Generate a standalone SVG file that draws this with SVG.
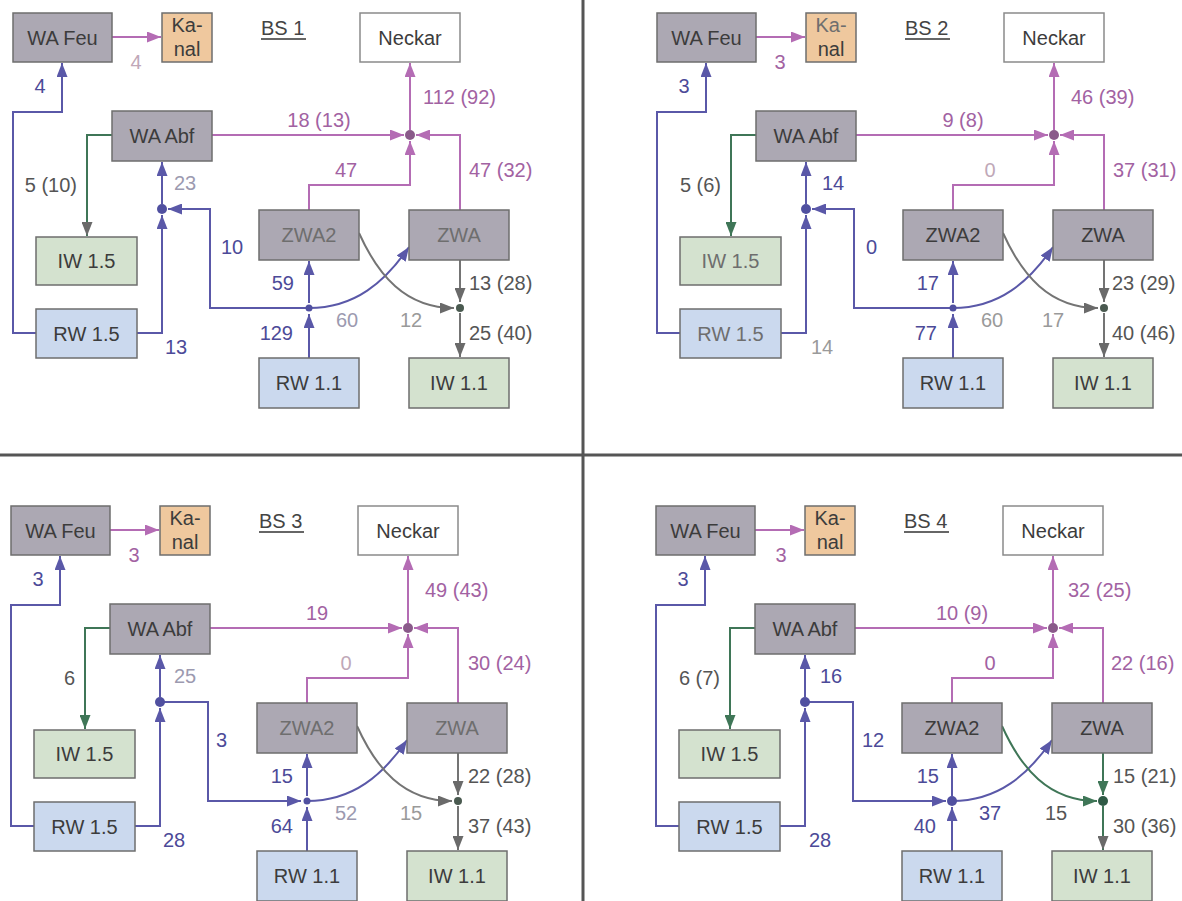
<svg xmlns="http://www.w3.org/2000/svg" width="1182" height="901" viewBox="0 0 1182 901">
<style>
text{font-family:"Liberation Sans",Arial,sans-serif;font-size:20px}
.box{stroke:#6e6e6e;stroke-width:1.5}
.g{fill:#aca8b3}.k{fill:#efc89e}.nk{fill:#fff;stroke:#8a8a8a}.iw{fill:#d4e2cf}.rw{fill:#cbd9ee}
.t{text-anchor:middle;fill:#3c3c3c}.tf{text-anchor:middle;fill:#6e6e6e}
.c{fill:none;stroke-width:2}
.bl{stroke:#5a58a8}.pk{stroke:#b46cb4}.gy{stroke:#747474}.gn{stroke:#3f7657}
.m{text-anchor:middle}.e{text-anchor:end}
.lb{fill:#4c4a98}.lp{fill:#a262a2}.lg{fill:#555}.lf{fill:#9c9ab0}.lfp{fill:#c0a8b8}.lfg{fill:#9a9a9a}
.div{stroke:#555;stroke-width:3}
</style>
<defs>
<marker id="ab" viewBox="0 0 14 11" refX="14" refY="5.5" markerWidth="14" markerHeight="11" markerUnits="userSpaceOnUse" orient="auto"><path d="M0,0 L14,5.5 L0,11 z" fill="#5a58a8"/></marker>
<marker id="ap" viewBox="0 0 14 11" refX="14" refY="5.5" markerWidth="14" markerHeight="11" markerUnits="userSpaceOnUse" orient="auto"><path d="M0,0 L14,5.5 L0,11 z" fill="#b46cb4"/></marker>
<marker id="ag" viewBox="0 0 14 11" refX="14" refY="5.5" markerWidth="14" markerHeight="11" markerUnits="userSpaceOnUse" orient="auto"><path d="M0,0 L14,5.5 L0,11 z" fill="#6a6a6a"/></marker>
<marker id="an" viewBox="0 0 14 11" refX="14" refY="5.5" markerWidth="14" markerHeight="11" markerUnits="userSpaceOnUse" orient="auto"><path d="M0,0 L14,5.5 L0,11 z" fill="#3f7657"/></marker>
</defs>
<rect width="1182" height="901" fill="#fff"/>
<g id="dividers">
<line class="div" x1="583" y1="0" x2="583" y2="901"/>
<line class="div" x1="0" y1="455" x2="1182" y2="455"/>
</g>

<!-- BS 1 -->
<g id="bs1">
<g id="bs1-connectors">
<path class="c pk" d="M112,37 H161" marker-end="url(#ap)"/>
<path class="c pk" d="M212,135 H404" marker-end="url(#ap)"/>
<path class="c pk" d="M460,210 V135 H416" marker-end="url(#ap)"/>
<path class="c pk" d="M309,210 V185 H410 V141" marker-end="url(#ap)"/>
<path class="c pk" d="M410,130 V63" marker-end="url(#ap)"/>
<circle cx="410" cy="135" r="5" fill="#8a5a8a"/>
<path class="c bl" d="M36,333 H13 V112 H62 V63" marker-end="url(#ab)"/>
<path class="c bl" d="M137,333 H162 V215" marker-end="url(#ab)"/>
<path class="c bl" d="M162,204 V162" marker-end="url(#ab)"/>
<path class="c bl" d="M309,308 H210 V209 H168" marker-end="url(#ab)"/>
<path class="c bl" d="M309,358 V314" marker-end="url(#ab)"/>
<path class="c bl" d="M309,303 V261" marker-end="url(#ab)"/>
<path class="c bl" d="M309,308 C355,308 385,282 409,247" marker-end="url(#ab)"/>
<circle cx="162" cy="209" r="5" fill="#5050a0"/>
<circle cx="309" cy="308" r="3.5" fill="#5050a0"/>
<path class="c gn" d="M112,135 H87 V236" marker-end="url(#ag)"/>
<path class="c gy" d="M460,260 V302" marker-end="url(#ag)"/>
<path class="c gy" d="M460,313 V357" marker-end="url(#ag)"/>
<path class="c gy" d="M359,233 C378,275 405,308 454,308" marker-end="url(#ag)"/>
<circle cx="460" cy="308" r="4" fill="#4a5a50"/>
</g>
<g id="bs1-wafeu"><rect class="box g" x="13" y="13" width="99" height="49"/><text class="t" x="62.5" y="45">WA Feu</text></g>
<g id="bs1-kanal"><rect class="box k" x="162" y="13" width="50" height="49"/><text class="t" x="187" y="32">Ka-</text><text class="t" x="187" y="56">nal</text></g>
<g id="bs1-title"><text x="261" y="35" fill="#444">BS 1</text><line x1="261" y1="39" x2="306" y2="39" stroke="#666" stroke-width="2"/></g>
<g id="bs1-neckar"><rect class="box nk" x="360" y="13" width="100" height="49"/><text class="t" x="410" y="45">Neckar</text></g>
<g id="bs1-waabf"><rect class="box g" x="112" y="111" width="100" height="50"/><text class="t" x="162" y="143">WA Abf</text></g>
<g id="bs1-iw15"><rect class="box iw" x="36" y="237" width="101" height="48"/><text class="t" x="86.5" y="268">IW 1.5</text></g>
<g id="bs1-rw15"><rect class="box rw" x="36" y="309" width="101" height="49"/><text class="t" x="86.5" y="341">RW 1.5</text></g>
<g id="bs1-zwa2"><rect class="box g" x="259" y="210" width="100" height="50"/><text class="tf" x="309" y="242">ZWA2</text></g>
<g id="bs1-zwa"><rect class="box g" x="409" y="210" width="100" height="50"/><text class="tf" x="459" y="242">ZWA</text></g>
<g id="bs1-rw11"><rect class="box rw" x="259" y="358" width="100" height="50"/><text class="t" x="309" y="390">RW 1.1</text></g>
<g id="bs1-iw11"><rect class="box iw" x="409" y="358" width="100" height="50"/><text class="t" x="459" y="390">IW 1.1</text></g>
<g id="bs1-labels">
<text class="m lfp" x="136" y="69">4</text>
<text class="m lb" x="40" y="93">4</text>
<text class="e lg" x="77" y="192">5 (10)</text>
<text class="lf" x="174" y="190">23</text>
<text class="m lp" x="319" y="127">18 (13)</text>
<text class="lp" x="423" y="104">112 (92)</text>
<text class="m lp" x="346" y="177">47</text>
<text class="lp" x="469" y="177">47 (32)</text>
<text class="lb" x="221" y="254">10</text>
<text class="e lb" x="294" y="290">59</text>
<text class="e lb" x="293" y="340">129</text>
<text class="m lf" x="347" y="327">60</text>
<text class="m lfg" x="411" y="327">12</text>
<text class="lg" x="469" y="290">13 (28)</text>
<text class="lg" x="469" y="340">25 (40)</text>
<text class="m lb" x="176" y="354">13</text>
</g>
</g>

<!-- BS 2 -->
<g id="bs2" transform="translate(644,0)">
<g id="bs2-connectors">
<path class="c pk" d="M112,37 H161" marker-end="url(#ap)"/>
<path class="c pk" d="M212,135 H404" marker-end="url(#ap)"/>
<path class="c pk" d="M460,210 V135 H416" marker-end="url(#ap)"/>
<path class="c pk" d="M309,210 V185 H410 V141" marker-end="url(#ap)"/>
<path class="c pk" d="M410,130 V63" marker-end="url(#ap)"/>
<circle cx="410" cy="135" r="5" fill="#8a5a8a"/>
<path class="c bl" d="M36,333 H13 V112 H62 V63" marker-end="url(#ab)"/>
<path class="c bl" d="M137,333 H162 V215" marker-end="url(#ab)"/>
<path class="c bl" d="M162,204 V162" marker-end="url(#ab)"/>
<path class="c bl" d="M309,308 H210 V209 H168" marker-end="url(#ab)"/>
<path class="c bl" d="M309,358 V314" marker-end="url(#ab)"/>
<path class="c bl" d="M309,303 V261" marker-end="url(#ab)"/>
<path class="c bl" d="M309,308 C355,308 385,282 409,247" marker-end="url(#ab)"/>
<circle cx="162" cy="209" r="5" fill="#5050a0"/>
<circle cx="309" cy="308" r="3.5" fill="#5050a0"/>
<path class="c gn" d="M112,135 H87 V236" marker-end="url(#an)"/>
<path class="c gy" d="M460,260 V302" marker-end="url(#ag)"/>
<path class="c gy" d="M460,313 V357" marker-end="url(#ag)"/>
<path class="c gy" d="M359,233 C378,275 405,308 454,308" marker-end="url(#ag)"/>
<circle cx="460" cy="308" r="4" fill="#4a5a50"/>
</g>
<g id="bs2-wafeu"><rect class="box g" x="13" y="13" width="99" height="49"/><text class="t" x="62.5" y="45">WA Feu</text></g>
<g id="bs2-kanal"><rect class="box k" x="162" y="13" width="50" height="49"/><text class="tf" x="187" y="32">Ka-</text><text class="t" x="187" y="56">nal</text></g>
<g id="bs2-title"><text x="261" y="35" fill="#444">BS 2</text><line x1="261" y1="39" x2="306" y2="39" stroke="#666" stroke-width="2"/></g>
<g id="bs2-neckar"><rect class="box nk" x="360" y="13" width="100" height="49"/><text class="t" x="410" y="45">Neckar</text></g>
<g id="bs2-waabf"><rect class="box g" x="112" y="111" width="100" height="50"/><text class="t" x="162" y="143">WA Abf</text></g>
<g id="bs2-iw15"><rect class="box iw" x="36" y="237" width="101" height="48"/><text class="tf" x="86.5" y="268">IW 1.5</text></g>
<g id="bs2-rw15"><rect class="box rw" x="36" y="309" width="101" height="49"/><text class="tf" x="86.5" y="341">RW 1.5</text></g>
<g id="bs2-zwa2"><rect class="box g" x="259" y="210" width="100" height="50"/><text class="t" x="309" y="242">ZWA2</text></g>
<g id="bs2-zwa"><rect class="box g" x="409" y="210" width="100" height="50"/><text class="t" x="459" y="242">ZWA</text></g>
<g id="bs2-rw11"><rect class="box rw" x="259" y="358" width="100" height="50"/><text class="t" x="309" y="390">RW 1.1</text></g>
<g id="bs2-iw11"><rect class="box iw" x="409" y="358" width="100" height="50"/><text class="t" x="459" y="390">IW 1.1</text></g>
<g id="bs2-labels">
<text class="m lp" x="136" y="69">3</text>
<text class="m lb" x="40" y="93">3</text>
<text class="e lg" x="77" y="192">5 (6)</text>
<text class="lb" x="178" y="190">14</text>
<text class="m lp" x="319" y="127">9 (8)</text>
<text class="lp" x="427" y="104">46 (39)</text>
<text class="m lfp" x="346" y="177">0</text>
<text class="lp" x="469" y="177">37 (31)</text>
<text class="lb" x="222" y="254">0</text>
<text class="e lb" x="295" y="290">17</text>
<text class="e lb" x="293" y="340">77</text>
<text class="m lfg" x="348" y="327">60</text>
<text class="m lfg" x="409" y="327">17</text>
<text class="lg" x="468" y="290">23 (29)</text>
<text class="lg" x="468" y="340">40 (46)</text>
<text class="m lfg" x="178" y="354">14</text>
</g>
</g>

<!-- BS 3 -->
<g id="bs3" transform="translate(-2,493)">
<g id="bs3-connectors">
<path class="c pk" d="M112,37 H161" marker-end="url(#ap)"/>
<path class="c pk" d="M212,135 H404" marker-end="url(#ap)"/>
<path class="c pk" d="M460,210 V135 H416" marker-end="url(#ap)"/>
<path class="c pk" d="M309,210 V185 H410 V141" marker-end="url(#ap)"/>
<path class="c pk" d="M410,130 V63" marker-end="url(#ap)"/>
<circle cx="410" cy="135" r="5" fill="#8a5a8a"/>
<path class="c bl" d="M36,333 H13 V112 H62 V63" marker-end="url(#ab)"/>
<path class="c bl" d="M137,333 H162 V215" marker-end="url(#ab)"/>
<path class="c bl" d="M162,204 V162" marker-end="url(#ab)"/>
<path class="c bl" d="M162,209 H210 V308 H303" marker-end="url(#ab)"/>
<path class="c bl" d="M309,358 V314" marker-end="url(#ab)"/>
<path class="c bl" d="M309,303 V261" marker-end="url(#ab)"/>
<path class="c bl" d="M309,308 C355,308 385,282 409,247" marker-end="url(#ab)"/>
<circle cx="162" cy="209" r="5" fill="#5050a0"/>
<circle cx="309" cy="308" r="3.5" fill="#5050a0"/>
<path class="c gn" d="M112,135 H87 V236" marker-end="url(#an)"/>
<path class="c gy" d="M460,260 V302" marker-end="url(#ag)"/>
<path class="c gy" d="M460,313 V357" marker-end="url(#ag)"/>
<path class="c gy" d="M359,233 C378,275 405,308 454,308" marker-end="url(#ag)"/>
<circle cx="460" cy="308" r="4" fill="#4a5a50"/>
</g>
<g id="bs3-wafeu"><rect class="box g" x="13" y="13" width="99" height="49"/><text class="t" x="62.5" y="45">WA Feu</text></g>
<g id="bs3-kanal"><rect class="box k" x="162" y="13" width="50" height="49"/><text class="t" x="187" y="32">Ka-</text><text class="t" x="187" y="56">nal</text></g>
<g id="bs3-title"><text x="261" y="35" fill="#444">BS 3</text><line x1="261" y1="39" x2="306" y2="39" stroke="#666" stroke-width="2"/></g>
<g id="bs3-neckar"><rect class="box nk" x="360" y="13" width="100" height="49"/><text class="t" x="410" y="45">Neckar</text></g>
<g id="bs3-waabf"><rect class="box g" x="112" y="111" width="100" height="50"/><text class="t" x="162" y="143">WA Abf</text></g>
<g id="bs3-iw15"><rect class="box iw" x="36" y="237" width="101" height="48"/><text class="t" x="86.5" y="268">IW 1.5</text></g>
<g id="bs3-rw15"><rect class="box rw" x="36" y="309" width="101" height="49"/><text class="t" x="86.5" y="341">RW 1.5</text></g>
<g id="bs3-zwa2"><rect class="box g" x="259" y="210" width="100" height="50"/><text class="tf" x="309" y="242">ZWA2</text></g>
<g id="bs3-zwa"><rect class="box g" x="409" y="210" width="100" height="50"/><text class="tf" x="459" y="242">ZWA</text></g>
<g id="bs3-rw11"><rect class="box rw" x="259" y="358" width="100" height="50"/><text class="t" x="309" y="390">RW 1.1</text></g>
<g id="bs3-iw11"><rect class="box iw" x="409" y="358" width="100" height="50"/><text class="t" x="459" y="390">IW 1.1</text></g>
<g id="bs3-labels">
<text class="m lp" x="136" y="69">3</text>
<text class="m lb" x="40" y="93">3</text>
<text class="e lg" x="77" y="192">6</text>
<text class="lf" x="176" y="190">25</text>
<text class="m lp" x="319" y="127">19</text>
<text class="lp" x="427" y="104">49 (43)</text>
<text class="m lfp" x="348" y="177">0</text>
<text class="lp" x="470" y="177">30 (24)</text>
<text class="lb" x="218" y="254">3</text>
<text class="e lb" x="295" y="290">15</text>
<text class="e lb" x="295" y="340">64</text>
<text class="m lf" x="348" y="327">52</text>
<text class="m lfg" x="413" y="327">15</text>
<text class="lg" x="470" y="290">22 (28)</text>
<text class="lg" x="470" y="340">37 (43)</text>
<text class="m lb" x="176" y="354">28</text>
</g>
</g>

<!-- BS 4 -->
<g id="bs4" transform="translate(643,493)">
<g id="bs4-connectors">
<path class="c pk" d="M112,37 H161" marker-end="url(#ap)"/>
<path class="c pk" d="M212,135 H404" marker-end="url(#ap)"/>
<path class="c pk" d="M460,210 V135 H416" marker-end="url(#ap)"/>
<path class="c pk" d="M309,210 V185 H410 V141" marker-end="url(#ap)"/>
<path class="c pk" d="M410,130 V63" marker-end="url(#ap)"/>
<circle cx="410" cy="135" r="5" fill="#8a5a8a"/>
<path class="c bl" d="M36,333 H13 V112 H62 V63" marker-end="url(#ab)"/>
<path class="c bl" d="M137,333 H162 V215" marker-end="url(#ab)"/>
<path class="c bl" d="M162,204 V162" marker-end="url(#ab)"/>
<path class="c bl" d="M162,209 H210 V308 H303" marker-end="url(#ab)"/>
<path class="c bl" d="M309,358 V314" marker-end="url(#ab)"/>
<path class="c bl" d="M309,303 V261" marker-end="url(#ab)"/>
<path class="c bl" d="M309,308 C355,308 385,282 409,247" marker-end="url(#ab)"/>
<circle cx="162" cy="209" r="5" fill="#5050a0"/>
<circle cx="309" cy="308" r="5" fill="#5050a0"/>
<path class="c gn" d="M112,135 H87 V236" marker-end="url(#an)"/>
<path class="c gn" d="M460,260 V302" marker-end="url(#an)"/>
<path class="c gn" d="M460,313 V357" marker-end="url(#ag)"/>
<path class="c gn" d="M359,233 C378,275 405,308 454,308" marker-end="url(#an)"/>
<circle cx="460" cy="308" r="5" fill="#2f5a45"/>
</g>
<g id="bs4-wafeu"><rect class="box g" x="13" y="13" width="99" height="49"/><text class="t" x="62.5" y="45">WA Feu</text></g>
<g id="bs4-kanal"><rect class="box k" x="162" y="13" width="50" height="49"/><text class="t" x="187" y="32">Ka-</text><text class="t" x="187" y="56">nal</text></g>
<g id="bs4-title"><text x="261" y="35" fill="#444">BS 4</text><line x1="261" y1="39" x2="306" y2="39" stroke="#666" stroke-width="2"/></g>
<g id="bs4-neckar"><rect class="box nk" x="360" y="13" width="100" height="49"/><text class="t" x="410" y="45">Neckar</text></g>
<g id="bs4-waabf"><rect class="box g" x="112" y="111" width="100" height="50"/><text class="t" x="162" y="143">WA Abf</text></g>
<g id="bs4-iw15"><rect class="box iw" x="36" y="237" width="101" height="48"/><text class="t" x="86.5" y="268">IW 1.5</text></g>
<g id="bs4-rw15"><rect class="box rw" x="36" y="309" width="101" height="49"/><text class="t" x="86.5" y="341">RW 1.5</text></g>
<g id="bs4-zwa2"><rect class="box g" x="259" y="210" width="100" height="50"/><text class="t" x="309" y="242">ZWA2</text></g>
<g id="bs4-zwa"><rect class="box g" x="409" y="210" width="100" height="50"/><text class="t" x="459" y="242">ZWA</text></g>
<g id="bs4-rw11"><rect class="box rw" x="259" y="358" width="100" height="50"/><text class="t" x="309" y="390">RW 1.1</text></g>
<g id="bs4-iw11"><rect class="box iw" x="409" y="358" width="100" height="50"/><text class="t" x="459" y="390">IW 1.1</text></g>
<g id="bs4-labels">
<text class="m lp" x="138" y="69">3</text>
<text class="m lb" x="40" y="93">3</text>
<text class="e lg" x="77" y="192">6 (7)</text>
<text class="lb" x="177" y="190">16</text>
<text class="m lp" x="319" y="127">10 (9)</text>
<text class="lp" x="425" y="104">32 (25)</text>
<text class="m lp" x="347" y="177">0</text>
<text class="lp" x="468" y="177">22 (16)</text>
<text class="lb" x="219" y="254">12</text>
<text class="e lb" x="296" y="290">15</text>
<text class="e lb" x="293" y="340">40</text>
<text class="m lb" x="347" y="327">37</text>
<text class="m lg" x="413" y="327">15</text>
<text class="lg" x="470" y="290">15 (21)</text>
<text class="lg" x="470" y="340">30 (36)</text>
<text class="m lb" x="177" y="354">28</text>
</g>
</g>
</svg>
